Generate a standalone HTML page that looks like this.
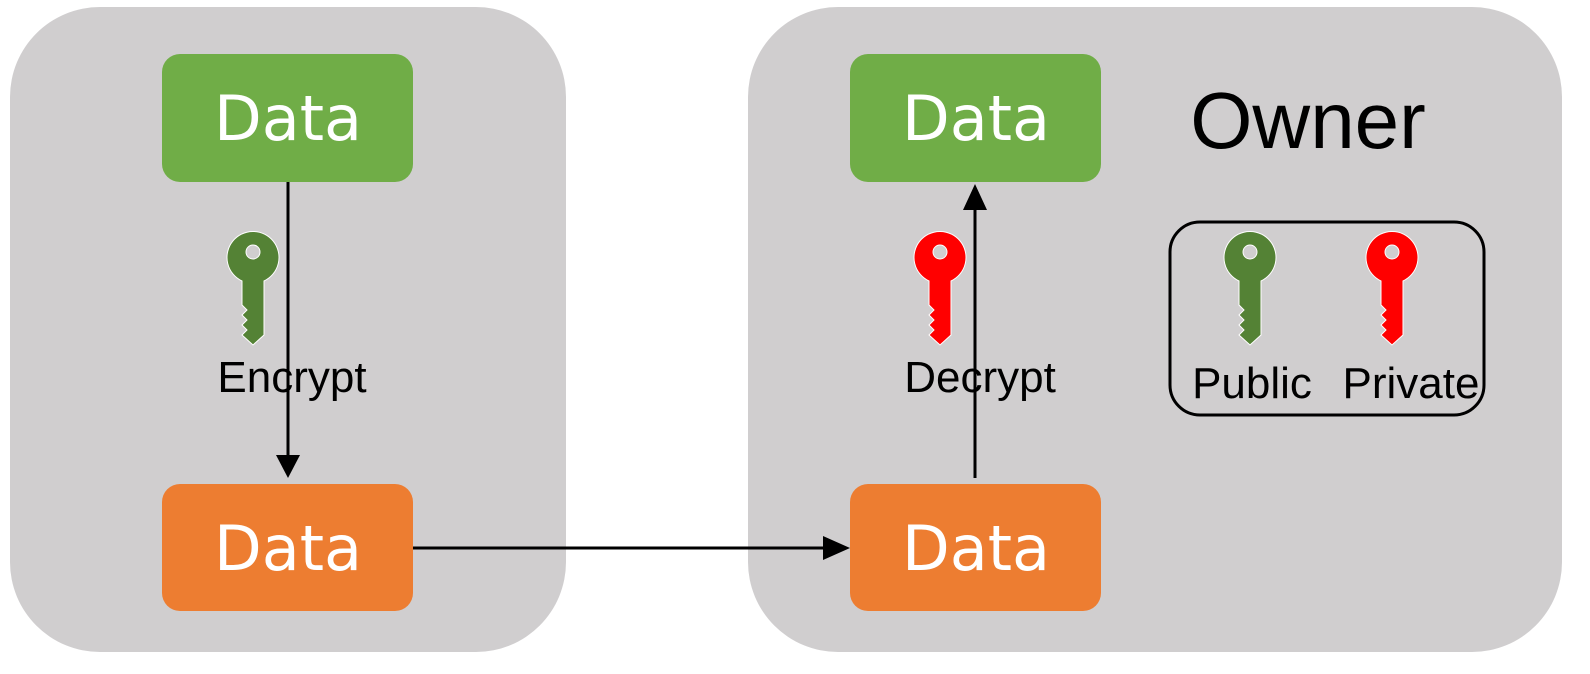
<!DOCTYPE html>
<html><head><style>body{margin:0;background:#fff}</style></head><body>
<svg width="1590" height="669" viewBox="0 0 1590 669" xmlns="http://www.w3.org/2000/svg" font-family="Liberation Sans, sans-serif">
<defs>
<g id="k">
<path d="M-11,18 A26,26 0 1 1 11,18 L11,72 L0,82 L-11,72 L-6,67 L-11,62 L-6,57 L-11,52 L-6,47 L-11,42 Z" stroke="#fff" stroke-width="1"/>
<circle cx="0" cy="-11" r="7" fill="#d0cecf" stroke="#fff" stroke-width="1"/>
</g>
</defs>
<rect x="10" y="7" width="556" height="645" rx="90" fill="#d0cecf"/>
<rect x="748" y="7" width="814" height="645" rx="90" fill="#d0cecf"/>
<rect x="162" y="54" width="251" height="128" rx="18" fill="#70ad47"/>
<rect x="162" y="484" width="251" height="127" rx="18" fill="#ed7d31"/>
<rect x="850" y="54" width="251" height="128" rx="18" fill="#70ad47"/>
<rect x="850" y="484" width="251" height="127" rx="18" fill="#ed7d31"/>
<g fill="#fff" font-size="62" text-anchor="middle" font-family="DejaVu Sans, sans-serif">
<text x="288" y="140">Data</text><text x="288" y="570">Data</text>
<text x="976" y="140">Data</text><text x="976" y="570">Data</text>
</g>
<text x="1308" y="148" font-size="80" text-anchor="middle">Owner</text>
<rect x="1170" y="222" width="314" height="193" rx="30" fill="none" stroke="#000" stroke-width="3"/>
<use href="#k" x="253" y="263" fill="#548235"/>
<use href="#k" x="940" y="263" fill="#ff0000"/>
<use href="#k" x="1250" y="263" fill="#548235"/>
<use href="#k" x="1392" y="263" fill="#ff0000"/>
<g stroke="#000" stroke-width="3">
<line x1="288" y1="182" x2="288" y2="458"/>
<line x1="413" y1="548" x2="826" y2="548"/>
<line x1="975" y1="478" x2="975" y2="208"/>
</g>
<polygon points="276,455 300,455 288,478" fill="#000"/>
<polygon points="823,536 823,560 850,548" fill="#000"/>
<polygon points="963,210 987,210 975,184" fill="#000"/>
<g font-size="44" text-anchor="middle">
<text x="292" y="392">Encrypt</text>
<text x="980" y="392">Decrypt</text>
<text x="1252" y="398">Public</text>
<text x="1411" y="398">Private</text>
</g>
</svg>
</body></html>
